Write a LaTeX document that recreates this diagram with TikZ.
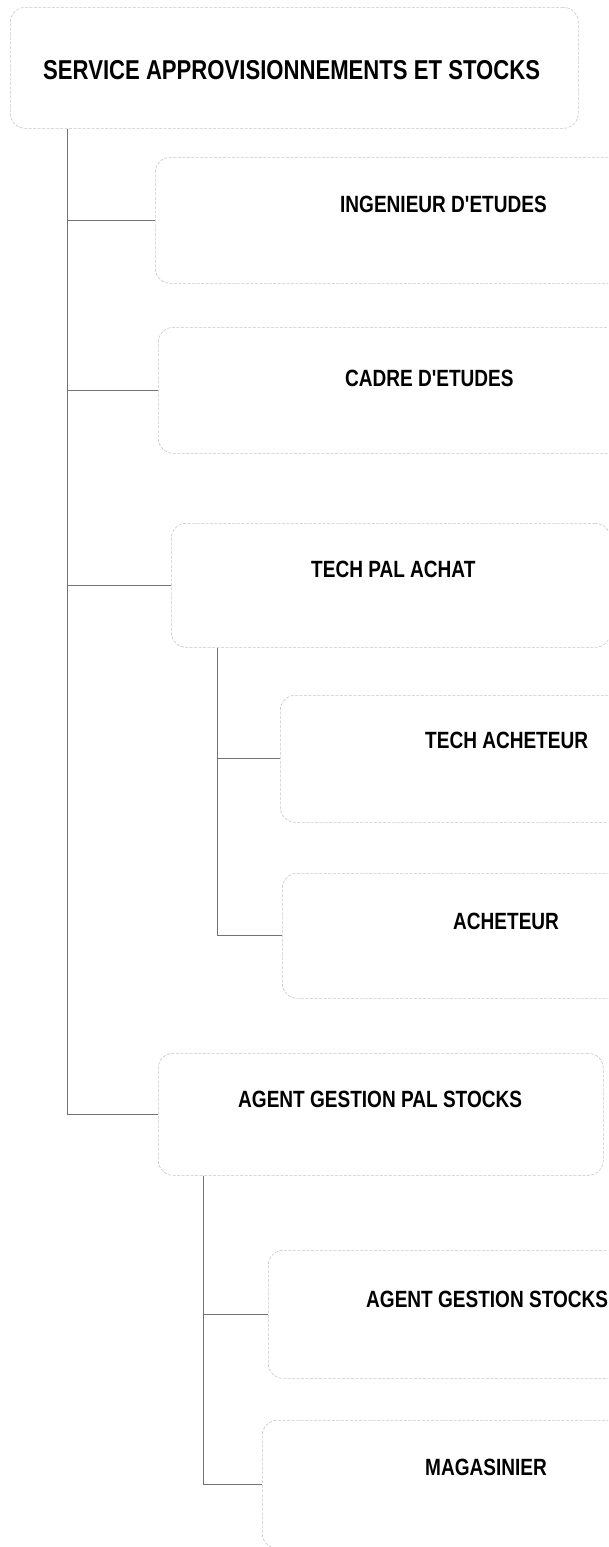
\documentclass[tikz,border=0pt]{standalone}
\usepackage{fontspec}
\setmainfont{Liberation Sans}[FakeStretch=0.81, Ligatures=TeXOff]
\begin{document}
\begin{tikzpicture}[x=1pt,y=-1pt,
  box/.style={draw=gray!45, dash pattern=on 3pt off 1.5pt, line width=0.6pt,
    rounded corners=15pt, inner sep=0pt, anchor=north west},
  lbl/.style={anchor=base west, inner sep=0pt, text=black,
    font=\fontsize{23.5}{26}\selectfont\bfseries},
  big/.style={font=\fontsize{27.3}{30}\selectfont\bfseries},
  link/.style={draw=black!55, line width=0.8pt}]
\useasboundingbox (0,0) rectangle (608,1547);
\clip (0,0) rectangle (608,1547);
% boxes
\node[box, minimum width=568pt, minimum height=121pt] (b1) at (10,7) {};
\node[box, minimum width=585pt, minimum height=126pt] (b2) at (155,157) {};
\node[box, minimum width=585pt, minimum height=126pt] (b3) at (158,327) {};
\node[box, minimum width=439pt, minimum height=124pt] (b4) at (171,523) {};
\node[box, minimum width=460pt, minimum height=127pt] (b5) at (280,695) {};
\node[box, minimum width=460pt, minimum height=125pt] (b6) at (282,873) {};
\node[box, minimum width=445pt, minimum height=122pt] (b7) at (158,1053) {};
\node[box, minimum width=470pt, minimum height=128pt] (b8) at (268,1250) {};
\node[box, minimum width=470pt, minimum height=128pt] (b9) at (262,1420) {};
% labels
\node[lbl, big] (l1) at (43,79) {SERVICE APPROVISIONNEMENTS ET STOCKS};
\node[lbl] (l2) at (340,212) {INGENIEUR D'ETUDES};
\node[lbl] (l3) at (345,386) {CADRE D'ETUDES};
\node[lbl] (l4) at (311,577) {TECH PAL ACHAT};
\node[lbl] (l5) at (425,748) {TECH ACHETEUR};
\node[lbl] (l6) at (453,929) {ACHETEUR};
\node[lbl] (l7) at (238,1107) {AGENT GESTION PAL STOCKS};
\node[lbl] (l8) at (366,1307) {AGENT GESTION STOCKS};
\node[lbl] (l9) at (425,1475) {MAGASINIER};
% trunk coordinates
\coordinate (t1) at (67,0);
\coordinate (t2) at (217,0);
\coordinate (t3) at (203,0);
% connectors
\draw[link] (b1.south -| t1) -- (t1 |- b7.west) -- (b7.west);
\draw[link] (t1 |- b2.west) -- (b2.west);
\draw[link] (t1 |- b3.west) -- (b3.west);
\draw[link] (t1 |- b4.west) -- (b4.west);
\draw[link] (b4.south -| t2) -- (t2 |- b6.west) -- (b6.west);
\draw[link] (t2 |- b5.west) -- (b5.west);
\draw[link] (b7.south -| t3) -- (t3 |- b9.west) -- (b9.west);
\draw[link] (t3 |- b8.west) -- (b8.west);
\end{tikzpicture}
\end{document}
